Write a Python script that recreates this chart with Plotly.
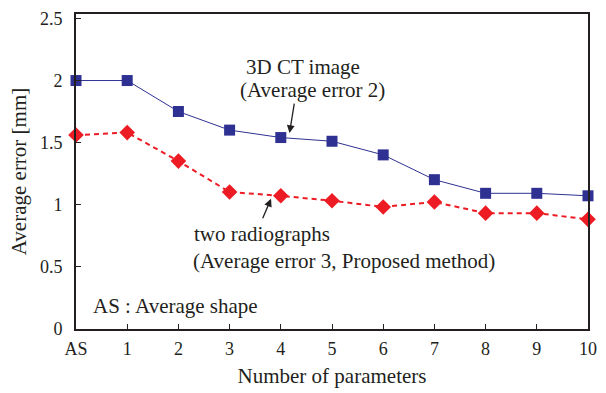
import plotly.graph_objects as go

x_vals = [0, 1, 2, 3, 4, 5, 6, 7, 8, 9, 10]
x_labels = ["AS", "1", "2", "3", "4", "5", "6", "7", "8", "9", "10"]
ct_error = [2.00, 2.00, 1.75, 1.60, 1.54, 1.51, 1.40, 1.20, 1.09, 1.09, 1.07]
radio_error = [1.56, 1.58, 1.35, 1.10, 1.07, 1.03, 0.98, 1.02, 0.93, 0.93, 0.88]
y_ticks = [0, 0.5, 1, 1.5, 2, 2.5]
y_labels = ["0", "0.5", "1", "1.5", "2", "2.5"]

FONT = "Liberation Serif"
INK = "#231F20"
fig = go.Figure()
fig.add_trace(go.Scatter(
    x=x_vals, y=ct_error, mode="lines+markers",
    line=dict(color="#2E3192", width=1),
    marker=dict(symbol="square", size=11, color="#2E3192"),
    cliponaxis=False, showlegend=False))
fig.add_trace(go.Scatter(
    x=x_vals, y=radio_error, mode="lines+markers",
    line=dict(color="#ED1C24", width=2, dash="5px,4px"),
    marker=dict(symbol="diamond", size=12, color="#ED1C24"),
    cliponaxis=False, showlegend=False))

txt = dict(family=FONT, size=21, color=INK)
ann = [
    dict(x=4.43, y=2.11, text="3D CT image", showarrow=False, font=txt, xanchor="center", yanchor="middle"),
    dict(x=4.61, y=1.92, text="(Average error 2)", showarrow=False, font=txt, xanchor="center", yanchor="middle"),
    dict(x=2.26, y=0.76, text="two radiographs", showarrow=False, font=txt, xanchor="left", yanchor="middle"),
    dict(x=2.25, y=0.545, text="(Average error 3, Proposed method)", showarrow=False, font=txt, xanchor="left", yanchor="middle"),
    dict(x=0.30, y=0.18, text="AS : Average shape", showarrow=False, font=txt, xanchor="left", yanchor="middle"),
    dict(x=4.17, y=1.576, ax=5, ay=-31, text="", showarrow=True, arrowhead=2, arrowsize=1.2, arrowwidth=1.3, arrowcolor=INK),
    dict(x=3.81, y=1.046, ax=-9, ay=21, text="", showarrow=True, arrowhead=2, arrowsize=1.2, arrowwidth=1.3, arrowcolor=INK),
]

fig.update_layout(
    width=606, height=393,
    margin=dict(l=76, r=9, t=13, b=62),
    plot_bgcolor="white", paper_bgcolor="white",
    font=dict(family=FONT, size=18, color=INK),
    annotations=ann,
    xaxis=dict(range=[0, 10], tickvals=x_vals, ticktext=x_labels,
               ticks="inside", ticklen=5, tickcolor=INK,
               showline=True, linecolor=INK, linewidth=2, mirror=True,
               showgrid=False, zeroline=False, ticklabelstandoff=2,
               title=dict(text="Number of parameters", font=dict(family=FONT, size=21), standoff=11),
               tickfont=dict(family=FONT, size=18)),
    yaxis=dict(range=[-0.005, 2.537], tickvals=y_ticks, ticktext=y_labels,
               ticks="inside", ticklen=5, tickcolor=INK,
               showline=True, linecolor=INK, linewidth=2, mirror=True,
               showgrid=False, zeroline=False, ticklabelstandoff=8,
               title=dict(text="Average error [mm]", font=dict(family=FONT, size=21), standoff=8),
               tickfont=dict(family=FONT, size=18)),
)
fig.write_html("out.html")
